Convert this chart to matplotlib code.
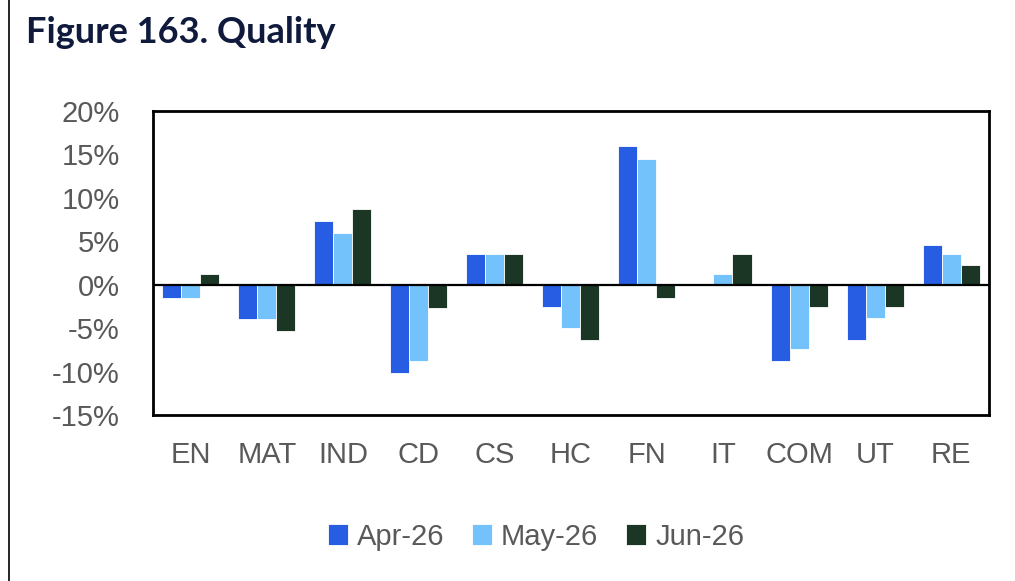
import matplotlib.pyplot as plt
import numpy as np
from matplotlib.lines import Line2D

# -------------------------------
# Figure 163: Quality
# -------------------------------
sectors = ["EN", "MAT", "IND", "CD", "CS", "HC", "FN", "IT", "COM", "UT", "RE"]
apr_26 = [-1.5, -4.0, 7.3, -10.2, 3.5, -2.6, 15.9, 0.0, -8.8, -6.4, 4.6]
may_26 = [-1.5, -4.0, 5.9, -8.8, 3.5, -5.0, 14.5, 1.2, -7.4, -3.9, 3.5]
jun_26 = [1.2, -5.3, 8.7, -2.7, 3.5, -6.4, -1.6, 3.5, -2.6, -2.6, 2.2]
series_names = ["Apr-26", "May-26", "Jun-26"]
y_ticks = [20, 15, 10, 5, 0, -5, -10, -15]

colors = ["#275de2", "#74c2fb", "#1b3625"]
grey = "#595959"

fig = plt.figure(figsize=(10.15, 5.81), dpi=100)
ax = fig.add_axes([0.1507, 0.2857, 0.8237, 0.5238])

x = np.arange(len(sectors))
w = 0.25
for i, (vals, name) in enumerate(zip([apr_26, may_26, jun_26], series_names)):
    ax.bar(x + (i - 1) * w, vals, w, color=colors[i], label=name,
           edgecolor="white", linewidth=0.6, zorder=2)

ax.axhline(0, color="black", linewidth=1.6, zorder=3)
ax.set_xlim(-0.5, len(sectors) - 0.5)
ax.set_ylim(-15, 20)
ax.set_yticks(y_ticks)
ax.set_yticklabels([f"{t}%" for t in y_ticks])
ax.set_xticks(x)
ax.set_xticklabels(sectors)
ax.tick_params(length=0, labelsize=21, colors=grey)
ax.tick_params(axis="x", pad=19)
ax.tick_params(axis="y", pad=24)
for lab in ax.get_xticklabels() + ax.get_yticklabels():
    lab.set_fontfamily("Liberation Sans")
for s in ax.spines.values():
    s.set_linewidth(2)
    s.set_color("black")

leg = ax.legend(loc="center", bbox_to_anchor=(0.458, -0.40), ncol=3,
                frameon=False, handlelength=0.7, handleheight=0.7,
                handletextpad=0.3, columnspacing=0.95,
                prop={"family": "Liberation Sans", "size": 21})
for t in leg.get_texts():
    t.set_color(grey)

fig.text(0.0256, 0.926, "Figure 163. Quality", fontsize=26, fontweight="bold",
         color="#0f1a3c", family="Lato", va="baseline", ha="left")
fig.add_artist(Line2D([0.009, 0.009], [0, 1], color="black", linewidth=1.2,
                      transform=fig.transFigure))

plt.savefig("out.png", dpi=100)
plt.close()
